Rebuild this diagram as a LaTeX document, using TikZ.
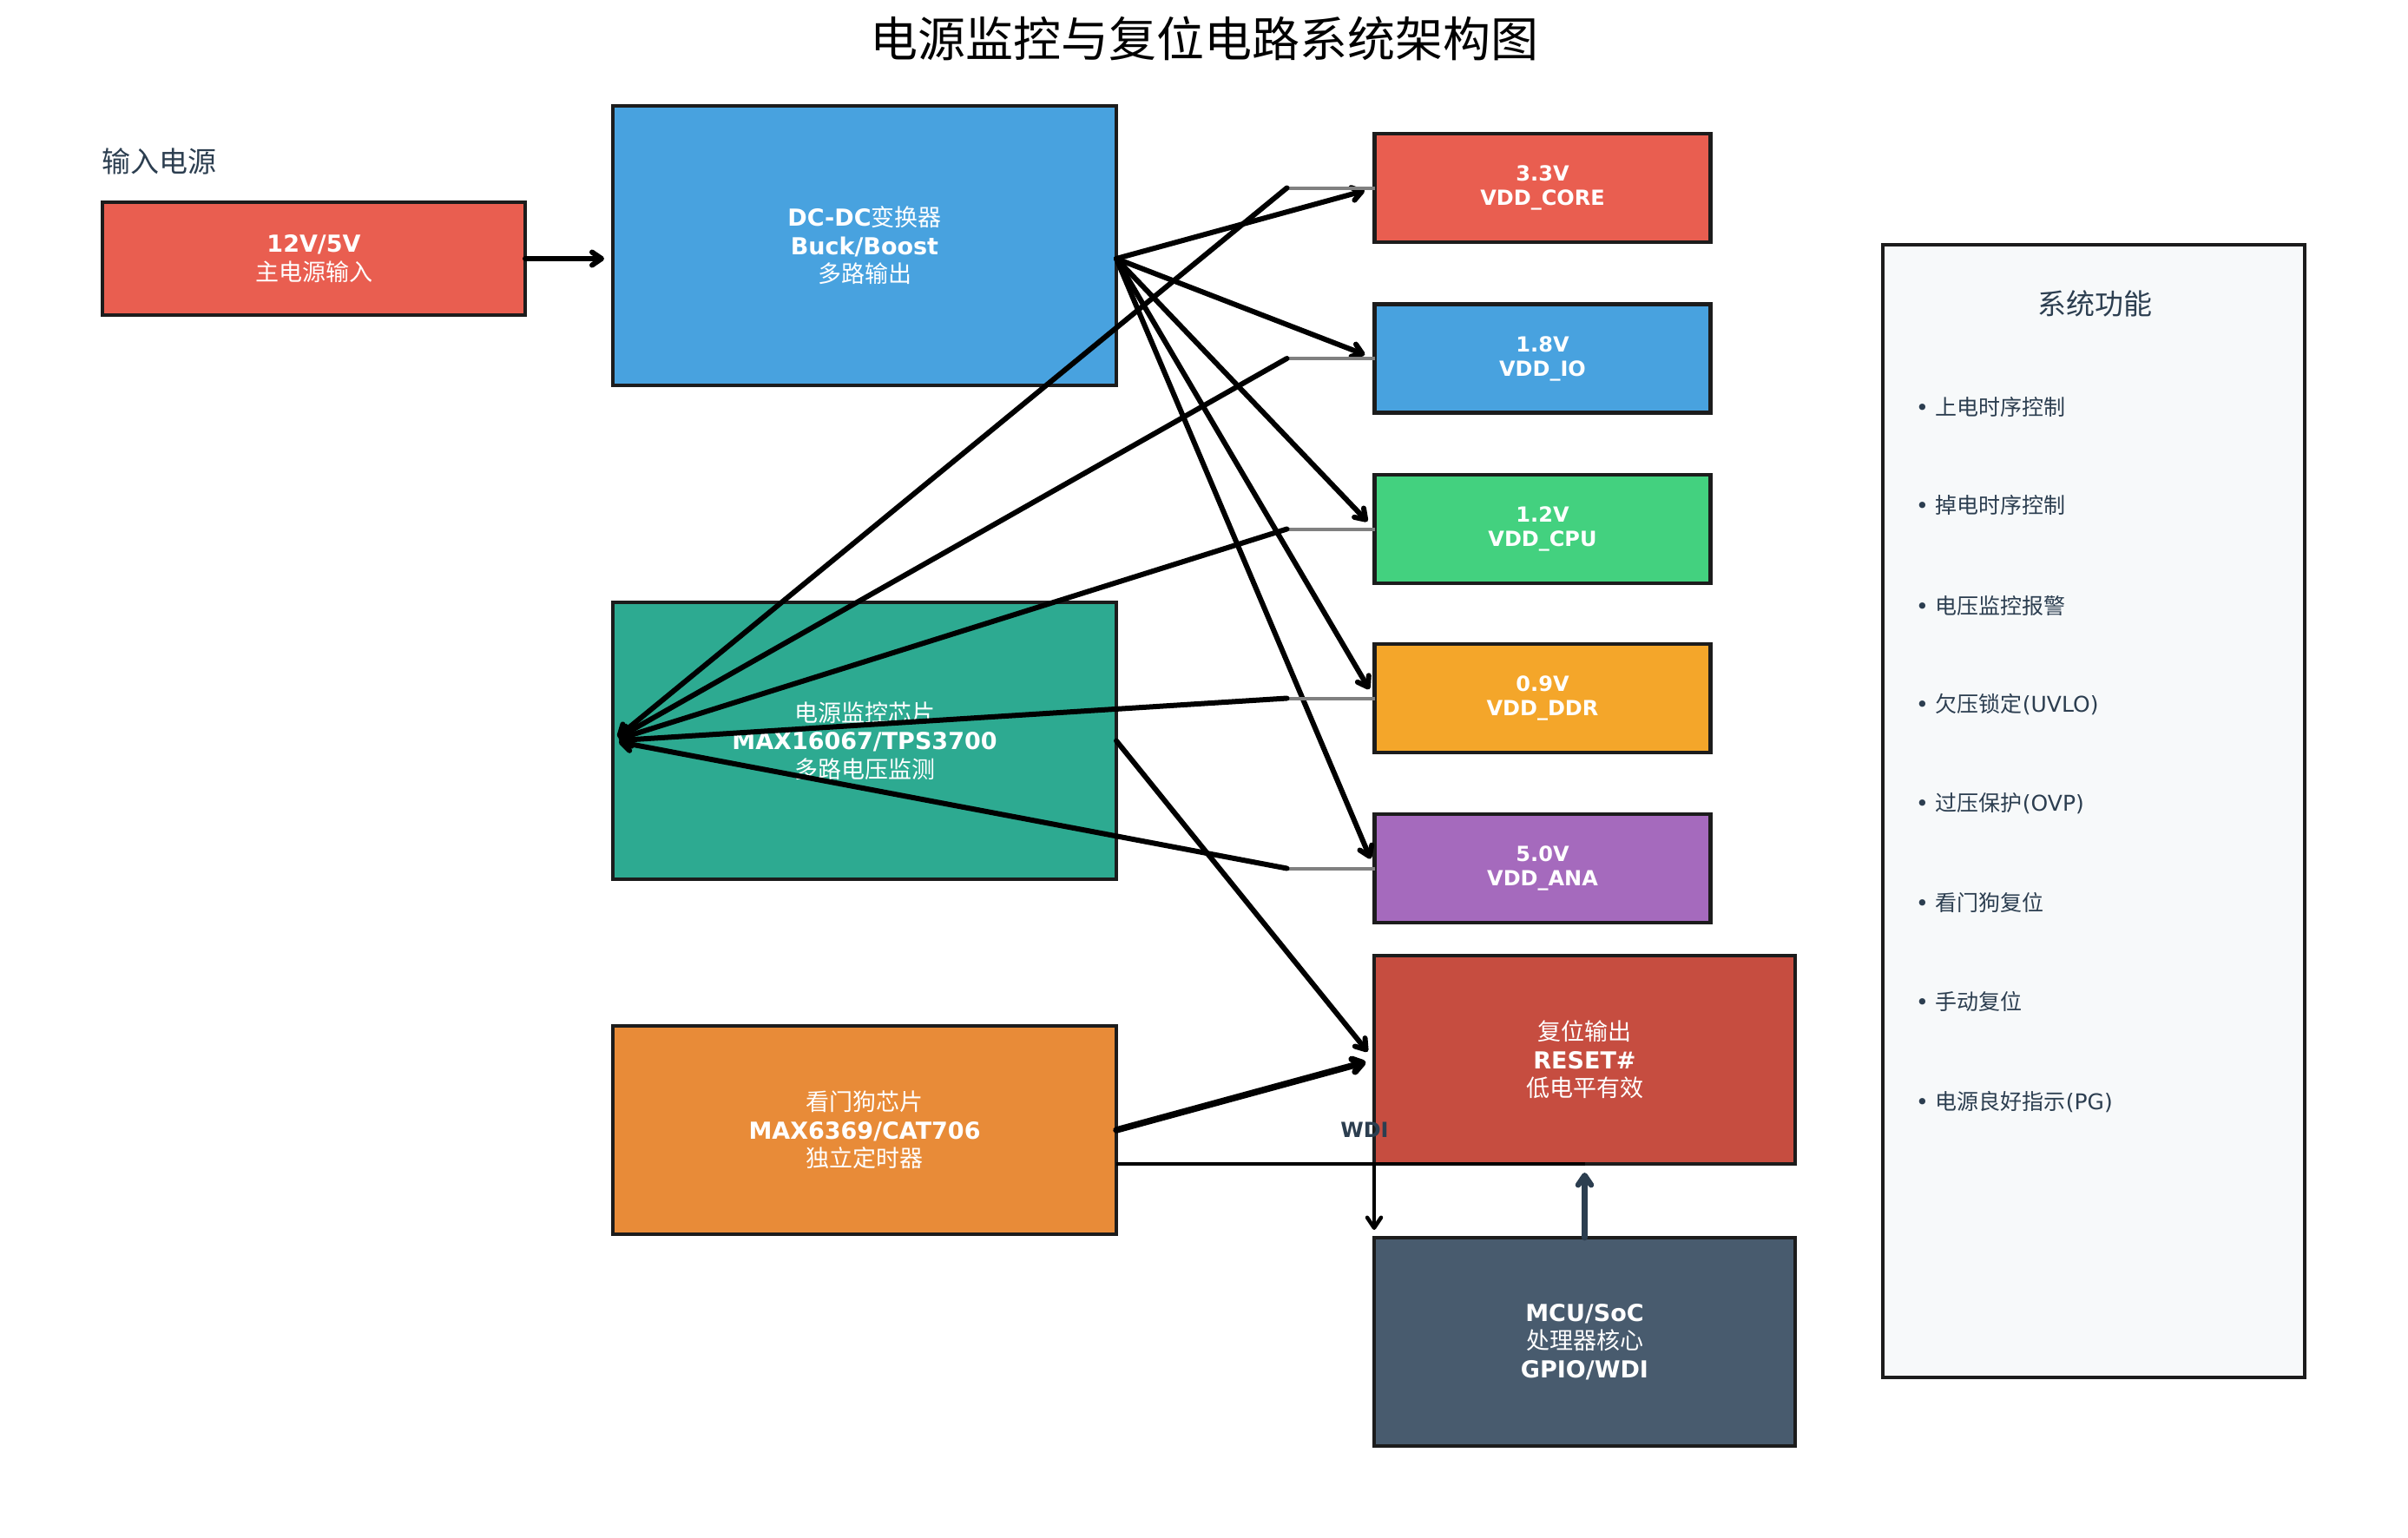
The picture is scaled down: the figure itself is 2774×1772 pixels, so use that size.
\documentclass[tikz,border=0pt]{standalone}
\usepackage{fontspec}
\setmainfont{DejaVu Sans}
\newfontfamily\zhfont{Noto Sans CJK SC}
\newcommand\zh[1]{{\zhfont\mdseries #1}}
\usetikzlibrary{arrows.meta}
\definecolor{cred}{RGB}{233,94,80}
\definecolor{cblue}{RGB}{72,162,223}
\definecolor{cgreen}{RGB}{67,209,127}
\definecolor{corange}{RGB}{244,166,42}
\definecolor{cpurple}{RGB}{165,106,189}
\definecolor{cteal}{RGB}{45,170,145}
\definecolor{cwd}{RGB}{232,139,56}
\definecolor{crst}{RGB}{198,77,64}
\definecolor{cmcu}{RGB}{72,91,110}
\definecolor{slate}{RGB}{44,62,80}
\definecolor{funcbg}{RGB}{247,249,250}
\definecolor{bord}{RGB}{28,28,28}
\begin{document}
\begin{tikzpicture}[x=1pt,y=-1pt,
  box/.style={draw=bord, line width=4.5pt, inner sep=0pt, outer sep=0pt, align=center, text=white,
    font=\bfseries\fontsize{27}{32.5}\selectfont},
  vbox/.style={box, minimum width=387pt, minimum height=125pt, font=\bfseries\fontsize{24}{28}\selectfont},
  conn/.style={draw=black, line width=6pt, line cap=round, -{Straight Barb[length=11pt,width=15pt,round]}},
  thin conn/.style={draw=black, line width=4.5pt, line cap=round, -{Straight Barb[length=12pt,width=16pt,round]}},
  tap/.style={draw=gray, line width=4pt},
  item/.style={anchor=west, text=slate, inner sep=0pt, font=\fontsize{25}{29}\selectfont}
]
\useasboundingbox (0,0) rectangle (2774,1772);

% title and labels
\node[font=\zhfont\fontsize{55}{62}\selectfont, text=black] (title) at (1387,44) {电源监控与复位电路系统架构图};
\node[anchor=west, inner sep=0pt, text=slate, font=\zhfont\fontsize{33}{38}\selectfont] (inlabel) at (117,186) {输入电源};

% boxes
\node[box, fill=cred, minimum width=487pt, minimum height=130pt] (inp) at (361.5,298) {12V/5V\\\zh{主电源输入}};
\node[box, fill=cblue, minimum width=580pt, minimum height=322pt] (dcdc) at (996,283) {DC-DC\zh{变换器}\\Buck/Boost\\\zh{多路输出}};

\node[vbox, fill=cred] (v33) at (1777,216.5) {3.3V\\VDD\_CORE};
\node[vbox, fill=cblue] (v18) at (1777,413) {1.8V\\VDD\_IO};
\node[vbox, fill=cgreen] (v12) at (1777,609.5) {1.2V\\VDD\_CPU};
\node[vbox, fill=corange] (v09) at (1777,804.5) {0.9V\\VDD\_DDR};
\node[vbox, fill=cpurple] (v50) at (1777,1000.5) {5.0V\\VDD\_ANA};

\node[box, fill=cteal, minimum width=580pt, minimum height=319pt] (mon) at (996,853.5) {\zh{电源监控芯片}\\MAX16067/TPS3700\\\zh{多路电压监测}};
\node[box, fill=cwd, minimum width=580pt, minimum height=240pt] (wd) at (996,1302) {\zh{看门狗芯片}\\MAX6369/CAT706\\\zh{独立定时器}};
\node[box, fill=crst, minimum width=485pt, minimum height=240pt] (rst) at (1825.5,1221) {\zh{复位输出}\\RESET\#\\\zh{低电平有效}};
\node[box, fill=cmcu, minimum width=485pt, minimum height=240pt] (mcu) at (1825.5,1546) {MCU/SoC\\\zh{处理器核心}\\GPIO/WDI};

% function panel
\node[draw=bord, line width=4.5pt, fill=funcbg, inner sep=0pt, outer sep=0pt, minimum width=486pt, minimum height=1305pt] (func) at (2412,934.5) {};
\node[text=slate, font=\zhfont\fontsize{33}{38}\selectfont] (functitle) at (2413,350) {系统功能};
\node[item] (f1) at (2207,469) {• \zh{上电时序控制}};
\node[item] (f2) at (2207,582) {• \zh{掉电时序控制}};
\node[item] (f3) at (2207,698) {• \zh{电压监控报警}};
\node[item] (f4) at (2207,812) {• \zh{欠压锁定}(UVLO)};
\node[item] (f5) at (2207,926) {• \zh{过压保护}(OVP)};
\node[item] (f6) at (2207,1040) {• \zh{看门狗复位}};
\node[item] (f7) at (2207,1154) {• \zh{手动复位}};
\node[item] (f8) at (2207,1270) {• \zh{电源良好指示}(PG)};

% connectors
\coordinate (dcout) at (dcdc.east |- inp.east);
\draw[conn, shorten >=10pt] (inp.east) -- (dcdc.west |- inp.east);
\foreach \v in {v33,v18,v12,v09,v50}{
  \draw[conn, shorten >=12pt] (dcout) -- (\v.west);
}
\foreach \v in {v33,v18,v12,v09,v50}{
  \coordinate (t\v) at ([xshift=-101pt]\v.west);
  \draw[tap] (t\v) -- (\v.west);
}
\foreach \v in {v33,v18,v12,v09,v50}{
  \draw[conn, shorten >=7pt] (t\v) -- (mon.west);
}
\draw[conn, shorten >=12pt] (mon.east) -- (rst.west);
\draw[conn, line width=7.5pt, shorten >=10pt] (wd.east) -- (rst.west);

% WDI path
\coordinate (wdo) at (wd.east |- rst.south);
\draw[draw=black, line width=4.5pt] (wdo) -- (rst.south);
\draw[thin conn, shorten >=9pt] (rst.south west) -- (rst.south west |- mcu.north);
\node[text=slate, font=\bfseries\fontsize{24}{28}\selectfont, inner sep=0pt] (wdi) at (1572,1302) {WDI};
\draw[conn, draw=slate, line width=6.5pt, shorten >=10pt] (mcu.north) -- (rst.south);
\end{tikzpicture}
\end{document}
